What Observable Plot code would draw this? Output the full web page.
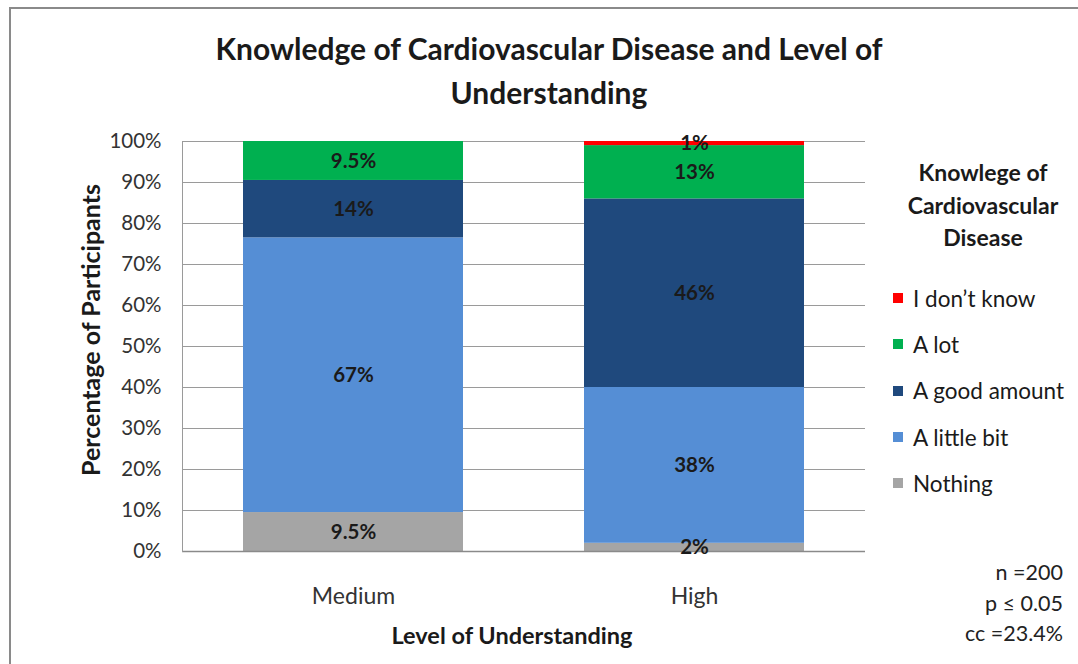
<!DOCTYPE html>
<html>
<head>
<meta charset="utf-8">
<script src="https://cdn.jsdelivr.net/npm/d3@7"></script>
<script src="https://cdn.jsdelivr.net/npm/@observablehq/plot@0.6"></script>
<style>
  html, body { margin: 0; padding: 0; background: #fff; }
  body { font-family: Lato, "Open Sans", sans-serif; color: #1a1a1a; }
  #wrap { position: relative; width: 1078px; height: 664px; overflow: hidden; }
  #border { position: absolute; left: 9px; top: 7px; width: 1100px; height: 700px; border: 2px solid #8a8a8a; box-sizing: border-box; }
  #chart { position: absolute; left: 0; top: 0; }
  .abs { position: absolute; white-space: nowrap; }
  #title { left: 0; width: 1098px; top: 26px; text-align: center; font-weight: bold; font-size: 30px; line-height: 44px; }
  #ylab { left: 90px; top: 330px; transform: translate(-50%, -50%) rotate(-90deg); font-weight: bold; font-size: 25px; }
  #xlab { left: 512px; top: 635px; transform: translate(-50%, -50%); font-weight: bold; font-size: 23.5px; }
  #legtitle { left: 888px; width: 190px; top: 156px; text-align: center; font-weight: bold; font-size: 23px; line-height: 32.5px; }
  #legend { left: 893px; top: 275px; }
  .li { display: flex; align-items: center; height: 46.3px; font-size: 22.5px; color: #1a1a1a; }
  .sw { width: 10px; height: 10px; margin-right: 10px; }
  #stats { right: 15px; top: 557px; text-align: right; font-size: 21.5px; line-height: 30.5px; color: #222; }
</style>
</head>
<body>
<div id="wrap">
  <div id="border"></div>
  <div id="chart"></div>
  <div id="title" class="abs">Knowledge of Cardiovascular Disease and Level of<br>Understanding</div>
  <div id="ylab" class="abs">Percentage of Participants</div>
  <div id="xlab" class="abs">Level of Understanding</div>
  <div id="legtitle" class="abs">Knowlege of<br>Cardiovascular<br>Disease</div>
  <div id="legend" class="abs"></div>
  <div id="stats" class="abs">n =200<br>p ≤ 0.05<br>cc =23.4%</div>
</div>
<script>
const categories = ["Medium", "High"];
const series = ["Nothing", "A little bit", "A good amount", "A lot", "I don’t know"];
const colors = ["#a5a5a5", "#558ed5", "#1f497d", "#00b050", "#ff0000"];
const mediumValues = [9.5, 67, 14, 9.5, 0];
const highValues = [2, 38, 46, 13, 1];
const yTicks = [0, 10, 20, 30, 40, 50, 60, 70, 80, 90, 100];

const valuesByCategory = { Medium: mediumValues, High: highValues };
const data = [];
for (const c of categories) {
  series.forEach((s, i) => {
    const v = valuesByCategory[c][i];
    if (v > 0) data.push({ category: c, series: s, value: v });
  });
}

const chart = Plot.plot({
  width: 1078,
  height: 664,
  marginLeft: 182,
  marginRight: 213,
  marginTop: 141,
  marginBottom: 113,
  style: { fontFamily: "Lato, 'Open Sans', sans-serif", background: "transparent", overflow: "visible" },
  x: { domain: categories, paddingInner: 0.356, paddingOuter: 0.178, label: null },
  y: { domain: [0, 100], label: null },
  color: { domain: series, range: colors },
  marks: [
    Plot.gridY(yTicks, { stroke: "#9a9a9a", strokeOpacity: 1, strokeWidth: 1 }),
    Plot.barY(data, Plot.stackY({ x: "category", y: "value", z: "series", fill: "series", order: series })),
    Plot.ruleY([0], { stroke: "#8a8a8a", strokeWidth: 1.5 }),
    Plot.frame({ anchor: "left", stroke: "#9a9a9a", strokeWidth: 1 }),
    Plot.text(data, Plot.stackY({
      x: "category", y: "value", z: "series", order: series,
      text: d => d.value + "%",
      fontWeight: "bold", fontSize: 20.5, fill: "#1a1a1a"
    })),
    Plot.axisY(yTicks, { tickFormat: d => d + "%", tickSize: 0, tickPadding: 21, fontSize: 20.5, fill: "#333", label: null }),
    Plot.axisX({ tickSize: 0, tickPadding: 36, fontSize: 23, fill: "#333", label: null })
  ]
});
document.getElementById("chart").appendChild(chart);

const legend = document.getElementById("legend");
for (let i = series.length - 1; i >= 0; i--) {
  const row = document.createElement("div");
  row.className = "li";
  const sw = document.createElement("span");
  sw.className = "sw";
  sw.style.background = colors[i];
  const t = document.createElement("span");
  t.textContent = series[i];
  row.appendChild(sw);
  row.appendChild(t);
  legend.appendChild(row);
}
</script>
</body>
</html>
